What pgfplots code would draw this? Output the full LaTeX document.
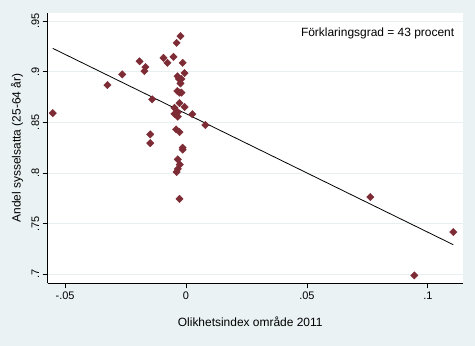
\documentclass[border=0pt]{standalone}
\usepackage{fontspec}
\setmainfont{Liberation Sans}
\usepackage{pgfplots}
\pgfplotsset{compat=1.18}
\definecolor{bgc}{RGB}{234,242,243}
\definecolor{gridc}{RGB}{232,239,241}
\definecolor{mk}{RGB}{125,43,53}
\begin{document}
\begin{tikzpicture}
\fill[bgc] (0,0) rectangle (475bp,346bp);
\begin{axis}[
  at={(47.7bp,62.7bp)}, anchor=south west,
  scale only axis, width=415bp, height=270.3bp,
  xmin=-0.0572, xmax=0.1144, ymin=0.6912, ymax=0.958,
  axis background/.style={fill=white},
  axis x line*=bottom, axis y line*=left,
  axis line style={black, line width=0.8bp, -},
  tick align=outside, major tick length=5bp,
  tick style={black, line width=0.8bp},
  xtick={-0.05,0,0.05,0.1}, xticklabels={-.05,0,.05,.1},
  ytick={0.7,0.75,0.8,0.85,0.9,0.95}, yticklabels={.7,.75,.8,.85,.9,.95},
  yticklabel style={rotate=90, anchor=south, font=\fontsize{11}{12}\selectfont},
  xticklabel style={font=\fontsize{11}{12}\selectfont},
  ymajorgrids, grid style={gridc, line width=1bp},
  xlabel={Olikhetsindex område 2011},
  ylabel={Andel sysselsatta (25-64 år)},
  xlabel style={at={(axis description cs:0.488,-0.142)}, anchor=center, font=\fontsize{12}{14}\selectfont},
  ylabel style={at={(axis description cs:-0.074,0.5)}, anchor=center, font=\fontsize{12}{14}\selectfont},
  clip=false,
]
\addplot[only marks, mark=square*, mark size=2.6bp, mark options={fill=mk, draw=mk, rotate=45}] coordinates {
(-0.0551,0.8592) (-0.0325,0.8869) (-0.0264,0.8974) (-0.0192,0.9103)
(-0.0168,0.9046) (-0.0172,0.9007) (-0.0140,0.8728) (-0.0148,0.8382)
(-0.0148,0.8296) (-0.0093,0.9137) (-0.0077,0.9088) (-0.0052,0.9147)
(-0.0039,0.9285) (-0.0023,0.9352) (-0.0014,0.9088) (-0.0006,0.8987)
(-0.0035,0.8955) (-0.0029,0.8930) (-0.0019,0.8928) (-0.0023,0.8885)
(-0.0036,0.8809) (-0.0027,0.8794) (-0.0019,0.8794) (-0.0027,0.8691)
(-0.0006,0.8652) (-0.0048,0.8644) (-0.0034,0.8602) (-0.0048,0.8584)
(-0.0034,0.8557) (0.0026,0.8581) (0.0080,0.8474) (-0.0041,0.8431)
(-0.0027,0.8405) (-0.0014,0.8251) (-0.0014,0.8231) (-0.0034,0.8135)
(-0.0026,0.8083) (-0.0034,0.8041) (-0.0039,0.8010) (-0.0027,0.7745)
(0.0762,0.7763) (0.0944,0.6990) (0.1105,0.7418)
};
\addplot[black, line width=0.8bp] coordinates {(-0.0551,0.9231) (0.1105,0.7293)};
\node[anchor=east, font=\fontsize{12}{14}\selectfont] at (rel axis cs:0.988,0.926) {Förklaringsgrad = 43 procent};
\end{axis}
\end{tikzpicture}
\end{document}
